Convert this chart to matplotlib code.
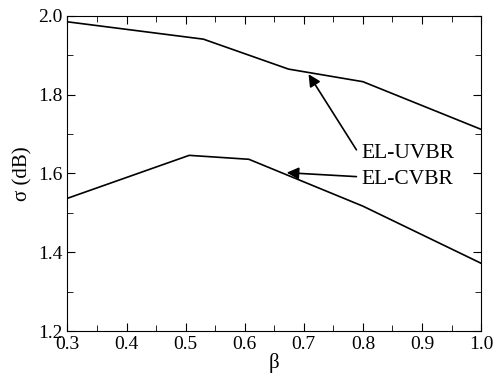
import matplotlib
matplotlib.use("Agg")
import matplotlib.pyplot as plt
from matplotlib.ticker import MultipleLocator

# data
beta_uvbr = [0.30, 0.53, 0.674, 0.80, 1.00]
sigma_uvbr = [1.985, 1.941, 1.865, 1.833, 1.712]

beta_cvbr = [0.30, 0.506, 0.607, 0.80, 1.00]
sigma_cvbr = [1.537, 1.646, 1.636, 1.517, 1.372]

plt.rcParams["font.family"] = ["Liberation Serif", "DejaVu Serif"]

fig = plt.figure(figsize=(4.97, 3.79), dpi=100)
ax = fig.add_axes([0.1358, 0.1266, 0.8322, 0.8314])

ax.plot(beta_uvbr, sigma_uvbr, color="black", lw=1.2)
ax.plot(beta_cvbr, sigma_cvbr, color="black", lw=1.2)

# arrows drawn separately so the tails sit at the left of the labels
arrow = dict(arrowstyle="-|>", color="black", lw=1.2, mutation_scale=18,
             shrinkA=0, shrinkB=0)
ax.annotate("", xy=(0.708, 1.852), xytext=(0.789, 1.660), arrowprops=arrow)
ax.annotate("", xy=(0.671, 1.602), xytext=(0.789, 1.592), arrowprops=arrow)
ax.text(0.797, 1.650, "EL-UVBR", fontsize=15.5, va="center", ha="left")
ax.text(0.797, 1.584, "EL-CVBR", fontsize=15.5, va="center", ha="left")

ax.set_xlim(0.3, 1.0)
ax.set_ylim(1.2, 2.0)
ax.xaxis.set_major_locator(MultipleLocator(0.1))
ax.xaxis.set_minor_locator(MultipleLocator(0.05))
ax.yaxis.set_major_locator(MultipleLocator(0.2))
ax.yaxis.set_minor_locator(MultipleLocator(0.1))
ax.xaxis.set_major_formatter(plt.FormatStrFormatter("%.1f"))
ax.yaxis.set_major_formatter(plt.FormatStrFormatter("%.1f"))
ax.tick_params(which="both", direction="in", top=True, right=True, labelsize=14)
ax.tick_params(which="major", length=6)
ax.tick_params(which="minor", length=4)
ax.set_xlabel("β", fontsize=15, labelpad=0)
ax.set_ylabel("σ (dB)", fontsize=15, labelpad=4)

fig.savefig("out.png", dpi=100)
